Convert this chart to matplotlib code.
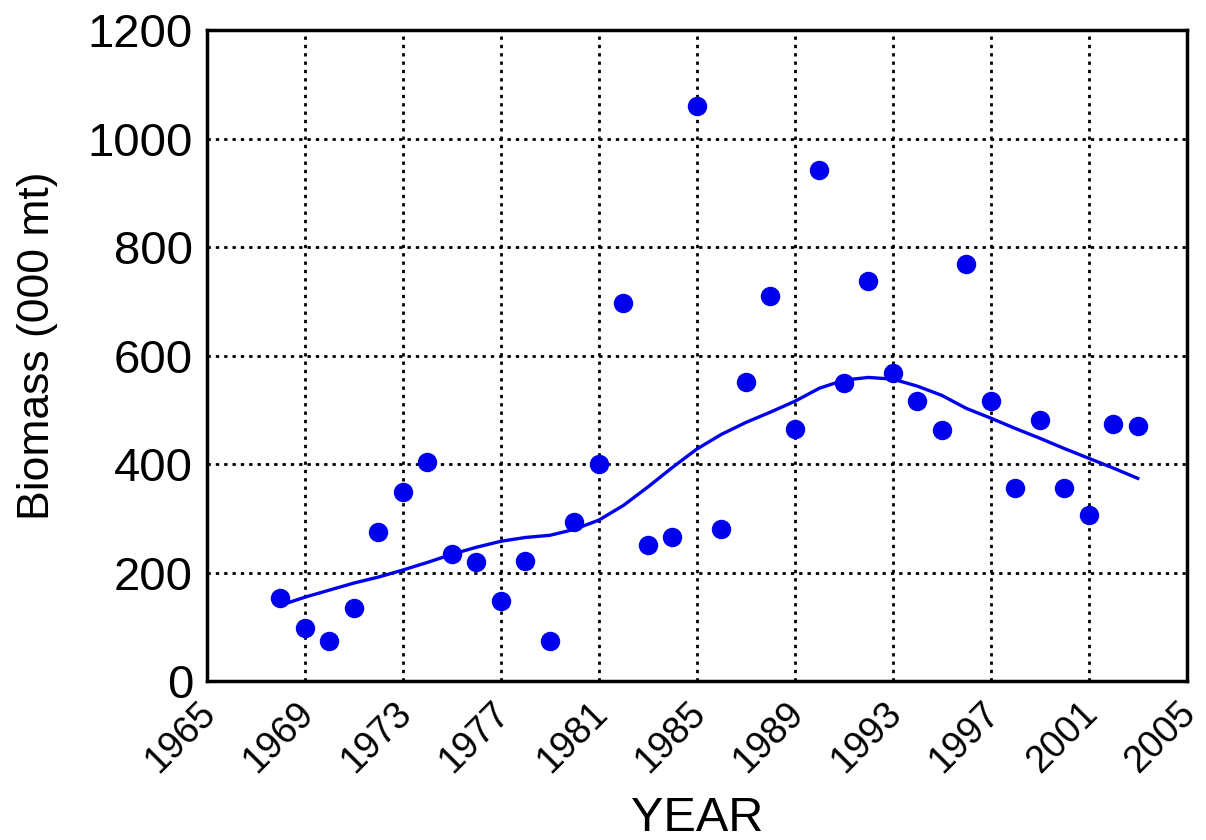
import matplotlib.pyplot as plt
import matplotlib.transforms as mtransforms

plt.rcParams['font.family'] = ['Liberation Sans', 'DejaVu Sans']

# observed biomass per year (000 mt)
years = list(range(1968, 2004))
biomass = [153, 98, 74, 135, 275, 348, 405, 234, 219, 147,
           221, 74, 293, 400, 697, 251, 265, 1060, 280, 551,
           710, 465, 942, 549, 737, 568, 516, 463, 770, 516,
           356, 481, 356, 306, 474, 470]

# smoothed trend
trend = [140, 155, 168, 181, 192, 205, 219, 234, 247, 258,
         265, 269, 280, 297, 324, 358, 394, 428, 455, 477,
         496, 516, 540, 555, 560, 557, 544, 527, 503, 485,
         466, 448, 429, 411, 393, 374]

xticks = list(range(1965, 2006, 4))
yticks = list(range(0, 1201, 200))

fig = plt.figure(figsize=(12.06, 8.4), dpi=100)
ax = fig.add_axes([0.1716, 0.189, 0.8124, 0.775])

ax.plot(years, trend, color='#0000ee', linewidth=2.4, zorder=3)
ax.plot(years, biomass, 'o', color='#0000ee', markersize=13, zorder=4)

ax.set_xlim(1965, 2005)
ax.set_ylim(0, 1200)
ax.set_xticks(xticks)
ax.set_yticks(yticks)
ax.set_xticklabels([str(x) for x in xticks], rotation=45, ha='right', fontsize=27)
ax.tick_params(axis='y', labelsize=34, length=0, pad=10)
ax.tick_params(axis='x', length=0, pad=10)

# shift rotated year labels a bit to the right of their ticks
offset = mtransforms.ScaledTranslation(16 / 100, 0, fig.dpi_scale_trans)
for lbl in ax.get_xticklabels():
    lbl.set_transform(lbl.get_transform() + offset)

ax.grid(True, color='black', linestyle=(0, (1.2, 1.8)), linewidth=2)
for s in ax.spines.values():
    s.set_linewidth(2.5)

ax.set_xlabel('YEAR', fontsize=35)
ax.set_ylabel('Biomass (000 mt)', fontsize=32)
ax.xaxis.set_label_coords(0.5, -0.176)
ax.yaxis.set_label_coords(-0.152, 0.515)

fig.savefig('out.png', dpi=100)
